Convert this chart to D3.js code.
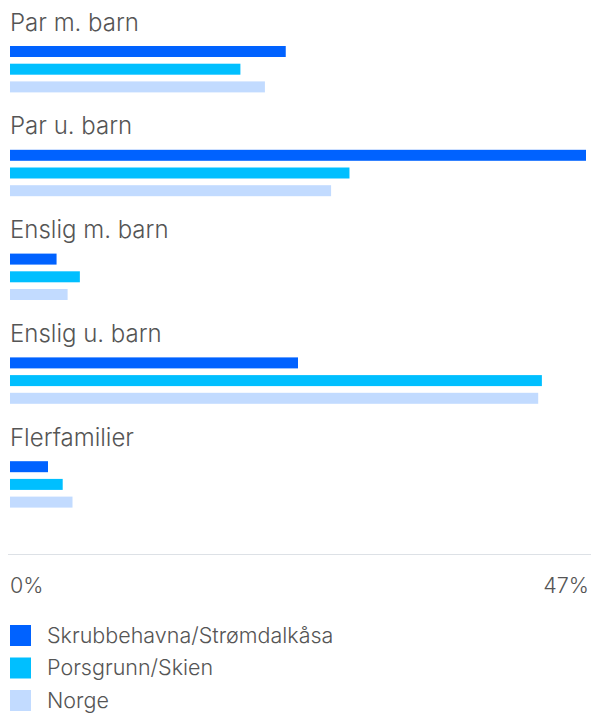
<!DOCTYPE html>
<html>
<head>
<meta charset="utf-8">
<script src="https://cdn.jsdelivr.net/npm/d3@7"></script>
<style>
  body { margin: 0; background: #fff; }
  text { font-family: Inter, "Open Sans", sans-serif; fill: #555; }
</style>
</head>
<body>
<script>
// data
const categories = ["Par m. barn", "Par u. barn", "Enslig m. barn", "Enslig u. barn", "Flerfamilier"];
const seriesNames = ["Skrubbehavna/Strømdalkåsa", "Porsgrunn/Skien", "Norge"];
const skrubbe = [22.5, 47.0, 3.8, 23.5, 3.1];
const porsgrunn = [18.8, 27.7, 5.7, 43.4, 4.3];
const norge = [20.8, 26.2, 4.7, 43.1, 5.1];
const tickLabels = ["0%", "47%"];
const colors = ["#0062ff", "#00bfff", "#c2dbff"];

const series = [skrubbe, porsgrunn, norge];

const width = 591, height = 713;

const svg = d3.select("body")
    .append("svg")
    .attr("width", width)
    .attr("height", height);

// x scale
const x = d3.scaleLinear()
    .domain([0, 47])
    .range([10, 586]);

// one band per category
const y = d3.scaleBand()
    .domain(categories)
    .range([0, 519])
    .padding(0);

// bars inside a group: step ~17.7, height 11
const inner = d3.scaleBand()
    .domain(d3.range(seriesNames.length))
    .range([46, 92.4])
    .paddingInner(0.379)
    .paddingOuter(0);

const groups = svg.selectAll(".grp")
    .data(categories)
    .enter()
    .append("g")
    .attr("class", "grp")
    .attr("transform", d => `translate(0, ${y(d)})`);

groups.append("text")
    .attr("x", 10)
    .attr("y", 30.7)
    .style("font-size", "24px")
    .style("font-weight", 300)
    .text(d => d);

groups.each(function(cat, ci) {
    d3.select(this).selectAll("rect")
        .data(series.map((s, si) => ({si: si, v: s[ci]})))
        .enter()
        .append("rect")
        .attr("x", x(0))
        .attr("y", d => inner(d.si))
        .attr("width", d => x(d.v) - x(0))
        .attr("height", inner.bandwidth())
        .attr("fill", d => colors[d.si]);
});

// axis line
svg.append("line")
    .attr("x1", 8).attr("x2", 591)
    .attr("y1", 554.5).attr("y2", 554.5)
    .attr("stroke", "#dde1e6")
    .attr("stroke-width", 1);

// tick labels
svg.append("text")
    .attr("x", x(0))
    .attr("y", 593)
    .style("font-size", "21.5px")
    .style("font-weight", 300)
    .text(tickLabels[0]);
svg.append("text")
    .attr("x", 589)
    .attr("y", 593)
    .attr("text-anchor", "end")
    .style("font-size", "21.5px")
    .style("font-weight", 300)
    .text(tickLabels[1]);

// legend
const legend = svg.selectAll(".leg")
    .data(seriesNames)
    .enter()
    .append("g")
    .attr("class", "leg")
    .attr("transform", (d, i) => `translate(10, ${625 + i * 32.5})`);

legend.append("rect")
    .attr("width", 21)
    .attr("height", 21)
    .attr("fill", (d, i) => colors[i]);

legend.append("text")
    .attr("x", 37)
    .attr("y", 17.7)
    .style("font-size", "21.5px")
    .style("font-weight", 300)
    .text(d => d);
</script>
</body>
</html>
